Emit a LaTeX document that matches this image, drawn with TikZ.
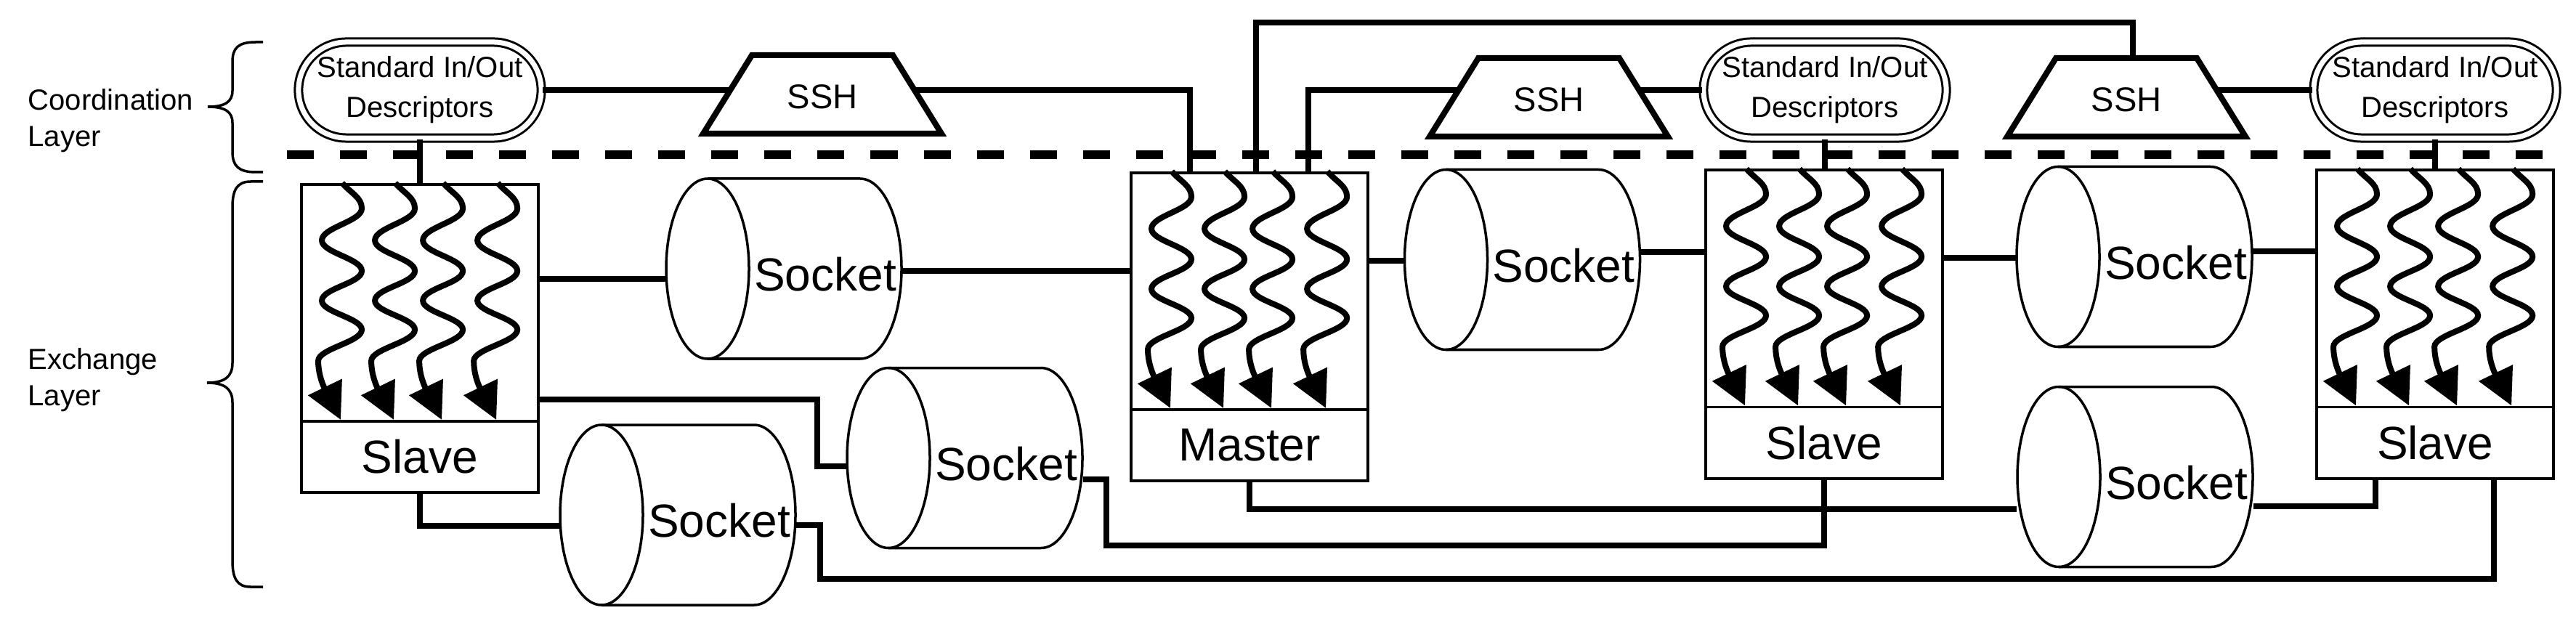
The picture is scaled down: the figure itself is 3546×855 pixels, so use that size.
\documentclass[tikz,border=0pt]{standalone}
\usepackage{fontspec}
\setmainfont{Liberation Sans}
\usetikzlibrary{arrows.meta,calc}
\def\PX{0.1mm}
\newcommand\bigtxt{\fontsize{18.2}{22}\selectfont}
\newcommand\smtxt{\fontsize{11.4}{15.6}\selectfont}
\newcommand\lbltxt{\fontsize{11.4}{14.2}\selectfont}
\newcommand\sshtxt{\fontsize{13.4}{16}\selectfont}
\tikzset{
  conn/.style={line width=0.85mm},
  boxln/.style={draw, line width=0.38mm, fill=white, inner sep=0pt},
  cylln/.style={draw, line width=0.35mm, fill=white},
  wavy/.style={line width=0.8mm, -{Triangle[length=5mm,width=5mm]}},
  sshln/.style={draw, line width=0.8mm, fill=white, line join=miter},
  stdio/.style={draw, double, line width=0.3mm, double distance=0.7mm, rounded corners=6.6mm,
    minimum width=334*\PX, minimum height=132*\PX, align=center, font=\smtxt, inner sep=0pt},
  bracel/.style={line width=0.35mm},
  layerdash/.style={line width=1.15mm, dash pattern=on 3.7mm off 3.6mm},
  wavearr/.pic={
    \draw[wavy] (0,0) .. controls (12,14) and (27,20) .. (27,35)
      .. controls (27,53) and (-28,61) .. (-28,79)
      .. controls (-28,96) and (27,104) .. (27,121)
      .. controls (27,138) and (-28,145) .. (-28,162)
      .. controls (-28,178) and (27,186) .. (27,202)
      .. controls (27,219) and (-33,228) .. (-33,245)
      .. controls (-33,275) and (-15,299) .. (-2,326);
  }
}
\newcommand\procbox[4]{%
  \node[boxln, minimum width=326*\PX, minimum height=424*\PX] (#1) at (#2,#3) {};
  \node[boxln, minimum width=326*\PX, minimum height=98*\PX, anchor=south, font=\bigtxt] (#1-lab) at (#1.south) {#4};
  \foreach \ox in {58,131,197,272}{\pic at ([xshift=\ox*\PX]#1.north west) {wavearr};}
}
\newcommand\sockcyl[3]{%
  \node[inner sep=0pt, minimum width=324*\PX, minimum height=248*\PX] (#1) at (#2,#3) {};
  \begin{scope}[shift={(#2,#3)}]
    \draw[cylln] (-105,-124) -- (105,-124) .. controls (136.5,-124) and (162,-68.5) .. (162,0)
      .. controls (162,68.5) and (136.5,124) .. (105,124) -- (-105,124)
      .. controls (-136.5,124) and (-162,68.5) .. (-162,0)
      .. controls (-162,-68.5) and (-136.5,-124) .. (-105,-124) -- cycle;
    \draw[cylln, fill=none] (-105,-124) .. controls (-73.5,-124) and (-48,-68.5) .. (-48,0)
      .. controls (-48,68.5) and (-73.5,124) .. (-105,124);
  \end{scope}
  \node[font=\bigtxt, inner sep=0pt] (#1-t) at (#2+57,#3+8) {Socket};
}
\newcommand\sshshape[3]{%
  \draw[sshln] (#2-97,#3) -- (#2+97,#3) -- (#2+164,#3+108) -- (#2-164,#3+108) -- cycle;
  \node[font=\sshtxt, inner sep=0pt] (#1) at (#2,#3+57) {SSH};
  \coordinate (#1-l) at ({#2-97-67*(124-#3)/108},124);
  \coordinate (#1-r) at ({#2+97+67*(124-#3)/108},124);
  \coordinate (#1-t) at (#2+9,#3);
}
\begin{document}
\begin{tikzpicture}[x=0.01cm, y=-0.01cm]
\useasboundingbox (0,0) rectangle (3546,855);
\fill[white] (0,0) rectangle (3546,855);

% layer separator
\draw[layerdash] (395,213) -- (3516,213);

% braces and layer labels
\draw[bracel] (362,58) -- (352,58) .. controls (328,58) and (320,66) .. (320,85) -- (320,125)
  .. controls (320,140) and (310,147) .. (286,147) .. controls (310,147) and (320,154) .. (320,169)
  -- (320,209) .. controls (320,228) and (328,237) .. (352,237) -- (362,237);
\draw[bracel] (362,250) -- (345,250) .. controls (326,250) and (320,262) .. (320,285) -- (320,500)
  .. controls (320,518) and (310,527) .. (285,527) .. controls (310,527) and (320,536) .. (320,554)
  -- (320,772) .. controls (320,796) and (326,808) .. (345,808) -- (362,808);
\node[font=\lbltxt, align=left, anchor=west, inner sep=0pt] (coordlbl) at (38,166) {Coordination\\Layer};
\node[font=\lbltxt, align=left, anchor=west, inner sep=0pt] (exchlbl) at (38,523) {Exchange\\Layer};

% coordination layer
\node[stdio] (io1) at (578,124) {Standard In/Out\\Descriptors};
\node[stdio] (io2) at (2512,124) {Standard In/Out\\Descriptors};
\node[stdio] (io3) at (3352,124) {Standard In/Out\\Descriptors};
\sshshape{ssh1}{1132}{76}
\sshshape{ssh2}{2132}{80}
\sshshape{ssh3}{2927}{80}

% exchange layer
\procbox{s1}{578}{466}{Slave}
\procbox{m}{1720}{450}{Master}
\procbox{s2}{2511}{446.5}{Slave}
\procbox{s3}{3352}{446.5}{Slave}
\sockcyl{sA}{1079}{370}
\sockcyl{sB}{1328}{630.5}
\sockcyl{sC}{933}{709}
\sockcyl{sD}{2095.5}{357.5}
\sockcyl{sE}{2938}{353.5}
\sockcyl{sF}{2939}{656.5}

% coordination connectors
\draw[conn] (io1.south) -- (s1.north);
\draw[conn] (io2.south) -- (io2.south |- s2.north);
\draw[conn] (io3.south) -- (s3.north);
\draw[conn] (io1.east) -- (io1.east -| ssh1-l);
\draw[conn] (ssh1-r) -| ([xshift=-82*\PX]m.north);
\draw[conn] ([xshift=9*\PX]m.north) -- ++(0,-205) -| (ssh3-t);
\draw[conn] ([xshift=81*\PX]m.north) |- (ssh2-l);
\draw[conn] (ssh2-r) -- (ssh2-r -| io2.west);
\draw[conn] (ssh3-r) -- (ssh3-r -| io3.west);

% exchange connectors
\draw[conn] (s1.east |- 0,384) -- (sA.west |- 0,384);
\draw[conn] (sA.east |- 0,373) -- (m.west |- 0,373);
\draw[conn] (m.east |- 0,359) -- (sD.west |- 0,359);
\draw[conn] (sD.east |- 0,347) -- (s2.west |- 0,347);
\draw[conn] (s2.east |- 0,355) -- (sE.west |- 0,355);
\draw[conn] (sE.east |- 0,346) -- (s3.west |- 0,346);
\draw[conn] (s1.east |- 0,550) -| (1125,642) -- (sB.west |- 0,642);
\draw[conn] (sB.east |- 0,660) -| (1523,751) -| (s2.south);
\draw[conn] (s1.south) |- (sC.west |- 0,724);
\draw[conn] (sC.east |- 0,723) -| (1129,797) -| ([xshift=81*\PX]s3.south);
\draw[conn] (m.south) |- (sF.west |- 0,701);
\draw[conn] (sF.east |- 0,697) -| ([xshift=-82*\PX]s3.south);
\end{tikzpicture}
\end{document}
